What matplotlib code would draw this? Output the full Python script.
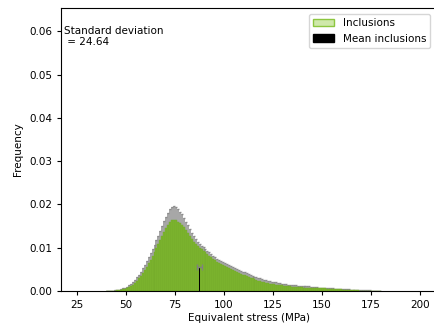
import numpy as np
import matplotlib.pyplot as plt
from matplotlib.patches import Patch

# histogram of equivalent stress in inclusions (bin width 1 MPa, starting at 40)
bin_start = 40
freq = [
    0, 0, 0, 0.00005, 0.0001, 0.00015, 0.0002, 0.0003, 0.0004, 0.0005,
    0.0007, 0.0009, 0.0012, 0.0015, 0.0019, 0.0024, 0.0029, 0.0035, 0.0042, 0.0049,
    0.0056, 0.0064, 0.0072, 0.0081, 0.0090, 0.0099, 0.0108, 0.0118, 0.0128, 0.0137,
    0.0146, 0.0153, 0.0159, 0.0163, 0.0165, 0.0163, 0.0160, 0.0156, 0.0152, 0.0147,
    0.0141, 0.0135, 0.0128, 0.0121, 0.0114, 0.0109, 0.0104, 0.0100, 0.0097, 0.0093,
    0.0089, 0.0085, 0.0081, 0.0078, 0.0074, 0.0071, 0.0068, 0.0065, 0.0062, 0.0060,
    0.0058, 0.0055, 0.0053, 0.0050, 0.0048, 0.0046, 0.0044, 0.0042, 0.0040, 0.0038,
    0.0036, 0.0034, 0.0032, 0.0031, 0.0029, 0.0027, 0.0026, 0.0024, 0.0023, 0.0021,
    0.0020, 0.0019, 0.0018, 0.0017, 0.0016, 0.0016, 0.0015, 0.0014, 0.0014, 0.0013,
    0.0012, 0.0012, 0.0011, 0.0011, 0.0010, 0.0010, 0.0010, 0.0009, 0.0009, 0.0009,
    0.0008, 0.0008, 0.0008, 0.0008, 0.0007, 0.0007, 0.0007, 0.0007, 0.0006, 0.0006,
    0.0006, 0.0006, 0.0005, 0.0005, 0.0005, 0.0005, 0.0004, 0.0004, 0.0004, 0.0004,
    0.0003, 0.0003, 0.0003, 0.0003, 0.0002, 0.0002, 0.0002, 0.0002, 0.0002, 0.0001,
    0.0001, 0.0001, 0.0001, 0.0001, 0.0001, 0.00005, 0.00005, 0.00005, 0, 0,
]
freq_err = [
    0, 0, 0, 0.00003, 0.00005, 0.00008, 0.0001, 0.00015, 0.0002, 0.00025,
    0.0003, 0.0004, 0.0005, 0.0006, 0.0007, 0.0008, 0.0009, 0.0010, 0.0011, 0.0012,
    0.0013, 0.0014, 0.0015, 0.0016, 0.0017, 0.0018, 0.0019, 0.0020, 0.0022, 0.0024,
    0.0026, 0.0028, 0.0030, 0.0031, 0.0031, 0.0030, 0.0029, 0.0027, 0.0025, 0.0022,
    0.0019, 0.0017, 0.0015, 0.0013, 0.0012, 0.0011, 0.0010, 0.0009, 0.0008, 0.0008,
    0.0008, 0.0008, 0.0008, 0.0008, 0.0008, 0.0008, 0.0007, 0.0007, 0.0007, 0.0007,
    0.0007, 0.0007, 0.0007, 0.0007, 0.0007, 0.0007, 0.0007, 0.0007, 0.0007, 0.0007,
    0.0007, 0.0007, 0.0007, 0.0007, 0.0006, 0.0006, 0.0006, 0.0006, 0.0006, 0.0006,
    0.0006, 0.0006, 0.0005, 0.0005, 0.0005, 0.0005, 0.0005, 0.0005, 0.0005, 0.0004,
    0.0004, 0.0004, 0.0004, 0.0004, 0.0004, 0.0003, 0.0003, 0.0003, 0.0003, 0.0003,
    0.0003, 0.0003, 0.0003, 0.0003, 0.0003, 0.0002, 0.0002, 0.0002, 0.0002, 0.0002,
    0.0002, 0.0002, 0.0002, 0.0002, 0.0002, 0.0002, 0.0001, 0.0001, 0.0001, 0.0001,
    0.0001, 0.0001, 0.0001, 0.0001, 0.0001, 0.0001, 0.0001, 0.0001, 0.0001, 0.0001,
    0.0001, 0.0001, 0.00005, 0.00005, 0.00005, 0.00003, 0.00003, 0.00002, 0, 0,
]
mean_stress = 87.4
mean_height = 0.0055
mean_err = 1.3
std_dev = 24.64

GREEN = "#7db52e"
GREEN_EDGE = "#72a82a"

fig = plt.figure(figsize=(4.34, 3.30), dpi=100)
ax = fig.add_axes([61 / 434, 39 / 330, 377 / 434, 283 / 330])

centers = bin_start + 0.5 + np.arange(len(freq))

ax.errorbar(centers, freq, yerr=freq_err, fmt="none", ecolor="#8a8a8a",
            elinewidth=1.2, capsize=1, alpha=0.9, zorder=1)
ax.bar(centers, freq, width=1.0, color=GREEN, edgecolor=GREEN_EDGE,
       linewidth=0.3, zorder=2)

ax.bar([mean_stress], [mean_height], width=0.6, color="black", zorder=3)
ax.errorbar([mean_stress], [mean_height], xerr=[mean_err], fmt="none",
            ecolor="#808080", elinewidth=1.0, capsize=2, zorder=3)

ax.text(0.008, 0.937, "Standard deviation\n = %.2f" % std_dev,
        transform=ax.transAxes, ha="left", va="top", fontsize=7.5)

handles = [Patch(facecolor="#cfe8aa", edgecolor="#8cc63f", label="Inclusions"),
           Patch(facecolor="black", edgecolor="black", label="Mean inclusions")]
ax.legend(handles=handles, loc="upper right", fontsize=7.5,
          bbox_to_anchor=(0.985, 0.985), borderaxespad=0.2)

ax.set_xlim(16.8, 209.1)
ax.set_ylim(0, 0.0654)
ax.set_xticks([25, 50, 75, 100, 125, 150, 175, 200])
ax.set_yticks([0, 0.01, 0.02, 0.03, 0.04, 0.05, 0.06])
ax.set_yticklabels(["0.00", "0.01", "0.02", "0.03", "0.04", "0.05", "0.06"])
ax.tick_params(labelsize=7.5, length=3)
ax.set_xlabel("Equivalent stress (MPa)", fontsize=7.5, labelpad=2)
ax.set_ylabel("Frequency", fontsize=7.5)

fig.savefig("out.png", dpi=100)
